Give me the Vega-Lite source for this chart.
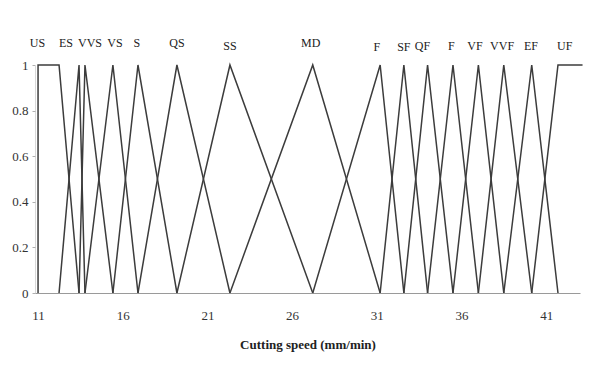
{
  "$schema": "https://vega.github.io/schema/vega-lite/v6.json",
  "width": 545,
  "height": 228,
  "autosize": {"type": "none"},
  "padding": {"left": 35, "top": 65, "right": 24, "bottom": 77},
  "background": "white",
  "config": {
    "view": {"stroke": null},
    "font": "Liberation Serif",
    "axis": {"labelFont": "Liberation Serif", "titleFont": "Liberation Serif", "grid": false, "labelColor": "#333", "titleColor": "#222"}
  },
  "datasets": {
    "sets": [
      {"set": "US", "k": 1, "x": 11, "m": 0}, {"set": "US", "k": 2, "x": 11, "m": 1}, {"set": "US", "k": 3, "x": 12.24, "m": 1}, {"set": "US", "k": 4, "x": 13.42, "m": 0},
      {"set": "ES", "k": 1, "x": 12.24, "m": 0}, {"set": "ES", "k": 2, "x": 13.42, "m": 1}, {"set": "ES", "k": 3, "x": 13.77, "m": 0},
      {"set": "VVS", "k": 1, "x": 13.42, "m": 0}, {"set": "VVS", "k": 2, "x": 13.77, "m": 1}, {"set": "VVS", "k": 3, "x": 15.42, "m": 0},
      {"set": "VS", "k": 1, "x": 13.77, "m": 0}, {"set": "VS", "k": 2, "x": 15.42, "m": 1}, {"set": "VS", "k": 3, "x": 16.9, "m": 0},
      {"set": "S", "k": 1, "x": 15.42, "m": 0}, {"set": "S", "k": 2, "x": 16.9, "m": 1}, {"set": "S", "k": 3, "x": 19.2, "m": 0},
      {"set": "QS", "k": 1, "x": 16.9, "m": 0}, {"set": "QS", "k": 2, "x": 19.2, "m": 1}, {"set": "QS", "k": 3, "x": 22.33, "m": 0},
      {"set": "SS", "k": 1, "x": 19.2, "m": 0}, {"set": "SS", "k": 2, "x": 22.33, "m": 1}, {"set": "SS", "k": 3, "x": 27.22, "m": 0},
      {"set": "MD", "k": 1, "x": 22.33, "m": 0}, {"set": "MD", "k": 2, "x": 27.22, "m": 1}, {"set": "MD", "k": 3, "x": 31.2, "m": 0},
      {"set": "F1", "k": 1, "x": 27.22, "m": 0}, {"set": "F1", "k": 2, "x": 31.2, "m": 1}, {"set": "F1", "k": 3, "x": 32.6, "m": 0},
      {"set": "SF", "k": 1, "x": 31.2, "m": 0}, {"set": "SF", "k": 2, "x": 32.6, "m": 1}, {"set": "SF", "k": 3, "x": 34.0, "m": 0},
      {"set": "QF", "k": 1, "x": 32.6, "m": 0}, {"set": "QF", "k": 2, "x": 34.0, "m": 1}, {"set": "QF", "k": 3, "x": 35.5, "m": 0},
      {"set": "F2", "k": 1, "x": 34.0, "m": 0}, {"set": "F2", "k": 2, "x": 35.5, "m": 1}, {"set": "F2", "k": 3, "x": 37.0, "m": 0},
      {"set": "VF", "k": 1, "x": 35.5, "m": 0}, {"set": "VF", "k": 2, "x": 37.0, "m": 1}, {"set": "VF", "k": 3, "x": 38.5, "m": 0},
      {"set": "VVF", "k": 1, "x": 37.0, "m": 0}, {"set": "VVF", "k": 2, "x": 38.5, "m": 1}, {"set": "VVF", "k": 3, "x": 40.15, "m": 0},
      {"set": "EF", "k": 1, "x": 38.5, "m": 0}, {"set": "EF", "k": 2, "x": 40.15, "m": 1}, {"set": "EF", "k": 3, "x": 41.7, "m": 0},
      {"set": "UF", "k": 1, "x": 40.15, "m": 0}, {"set": "UF", "k": 2, "x": 41.7, "m": 1}, {"set": "UF", "k": 3, "x": 43.15, "m": 1}
    ],
    "labels": [
      {"label": "US", "x": 10.97, "y": 1.095},
      {"label": "ES", "x": 12.65, "y": 1.095},
      {"label": "VVS", "x": 14.07, "y": 1.095},
      {"label": "VS", "x": 15.54, "y": 1.095},
      {"label": "S", "x": 16.84, "y": 1.095},
      {"label": "QS", "x": 19.2, "y": 1.095},
      {"label": "SS", "x": 22.33, "y": 1.085},
      {"label": "MD", "x": 27.1, "y": 1.095},
      {"label": "F", "x": 31.0, "y": 1.08},
      {"label": "SF", "x": 32.6, "y": 1.08},
      {"label": "QF", "x": 33.7, "y": 1.085},
      {"label": "F", "x": 35.4, "y": 1.085},
      {"label": "VF", "x": 36.8, "y": 1.085},
      {"label": "VVF", "x": 38.4, "y": 1.085},
      {"label": "EF", "x": 40.1, "y": 1.085},
      {"label": "UF", "x": 42.1, "y": 1.085}
    ]
  },
  "layer": [
    {
      "data": {"name": "sets"},
      "mark": {"type": "line", "color": "#3c3c3c", "strokeWidth": 1.5, "clip": false},
      "encoding": {
        "x": {
          "field": "x", "type": "quantitative",
          "scale": {"domain": [10.82, 43], "nice": false, "zero": false},
          "axis": {
            "values": [11, 16, 21, 26, 31, 36, 41],
            "ticks": false,
            "domainColor": "#9a9a9a",
            "domainWidth": 1.2,
            "labelFontSize": 13,
            "labelPadding": 16,
            "title": "Cutting speed (mm/min)",
            "titleFontSize": 13,
            "titleFontWeight": "bold",
            "titlePadding": 16
          }
        },
        "y": {
          "field": "m", "type": "quantitative",
          "scale": {"domain": [0, 1], "nice": false},
          "axis": {
            "values": [0, 0.2, 0.4, 0.6, 0.8, 1],
            "format": "~g",
            "domainColor": "#b0b0b0",
            "domainDash": [1, 1],
            "tickColor": "#b0b0b0",
            "tickSize": 3,
            "labelFontSize": 13,
            "labelPadding": 4,
            "title": null
          }
        },
        "detail": {"field": "set"},
        "order": {"field": "k"}
      }
    },
    {
      "data": {"name": "labels"},
      "mark": {"type": "text", "fontSize": 12, "color": "#222", "font": "Liberation Serif", "clip": false},
      "encoding": {
        "x": {"field": "x", "type": "quantitative"},
        "y": {"field": "y", "type": "quantitative"},
        "text": {"field": "label"}
      }
    }
  ]
}
